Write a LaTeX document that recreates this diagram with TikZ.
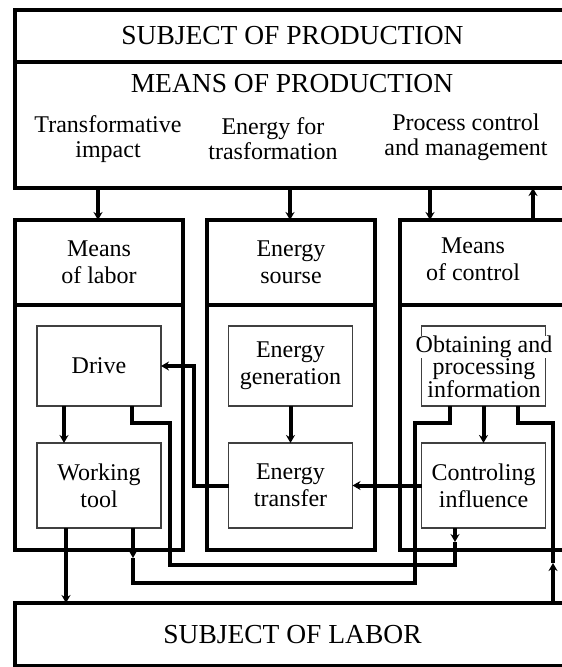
\documentclass[tikz,border=0pt]{standalone}
\usepackage{fontspec}
\setmainfont{Liberation Serif}
\usetikzlibrary{positioning}
\usetikzlibrary{arrows.meta}
\setlength{\fboxsep}{0pt}
\tikzset{every node/.style={ % Text of all boxes
      font=\fontsize{24}{27}\selectfont,
      align=center},
      head/.style={font=\fontsize{27.5}{30}\selectfont}, % Capital titles
      band/.style={ % Thick frames of the main blocks
      draw, line width=4pt, outer sep=0pt, inner sep=0pt},
      unit/.style={ % Thin boxes inside the blocks
      draw=black!75, line width=1.3pt, outer sep=0pt, inner sep=0pt,
      minimum width=124pt, minimum height=80pt},
      link/.style={ % Thick connectors with small heads
      draw, line width=4pt,
      -{Stealth[length=8pt,width=9pt]}},
      wire/.style={draw, line width=4pt}}

\begin{document}
\begin{tikzpicture}[x=1pt, y=-1pt]
      \useasboundingbox (0,0) rectangle (562,667);
      % top block
      \node[band, head, minimum width=555pt, minimum height=52pt, anchor=north west] (prod) at (15,10) {SUBJECT OF PRODUCTION};
      \node[band, minimum width=555pt, minimum height=126pt, below=0pt of prod] (means) {};
      \node[head] (meanstitle) at (292,84) {MEANS OF PRODUCTION};
      \node[font=\fontsize{24}{25}\selectfont] (impact) at (108,139) {Transformative\\impact};
      \node[font=\fontsize{24}{25}\selectfont] (energyfor) at (273,139) {Energy for\\trasformation};
      \node[font=\fontsize{24}{25}\selectfont] (process) at (466,137) {Process control\\and management};
      % three columns
      \node[band, minimum width=168pt, minimum height=85pt, anchor=north west] (labor) at (15,220) {Means\\of labor};
      \node[band, minimum width=168pt, minimum height=245pt, below=0pt of labor] (laborbox) {};
      \node[band, minimum width=168pt, minimum height=85pt, right=24pt of labor] (source) {Energy\\sourse};
      \node[band, minimum width=168pt, minimum height=245pt, below=0pt of source] (sourcebox) {};
      \node[band, minimum width=170pt, minimum height=85pt, right=25pt of source] (control) {};
      \node[band, minimum width=170pt, minimum height=245pt, below=0pt of control] (controlbox) {};
      \node (controltitle) at (473,259) {Means\\of control};
      % inner units
      \node[unit] (drive) at (99,366) {Drive};
      \node[unit, minimum height=85pt, below=37pt of drive] (tool) {Working\\tool};
      \node[unit] (gen) at (290.5,366) {Energy\\generation};
      \node[unit, minimum height=85pt, below=37pt of gen] (transfer) {Energy\\transfer};
      \node[unit] (info) at (483.5,366) {};
      \node[font=\fontsize{24}{21}\selectfont] (infotext) at (484,367) {\colorbox{white}{Obtaining and}\\processing\\information};
      \node[unit, minimum height=85pt, below=37pt of info] (ctrl) {Controling\\influence};
      % bottom block
      \node[band, head, minimum width=555pt, minimum height=63pt, anchor=north west] (subjlabor) at (15,603) {SUBJECT OF LABOR};
      % links between the blocks
      \draw[link] (98,0 |- means.south) -- (98,0 |- labor.north);
      \draw[link] (290,0 |- means.south) -- (290,0 |- source.north);
      \draw[link] (430,0 |- means.south) -- (430,0 |- control.north);
      \draw[link] (533,0 |- control.north) -- (533,0 |- means.south);
      \draw[link] (64,0 |- drive.south) -- (64,0 |- tool.north);
      \draw[link] (gen) -- (transfer);
      \draw[link] (info.south) -- (ctrl.north);
      \draw[link] (ctrl) -- (transfer);
      \draw[link] (transfer.west) -- ++(-35,0) |- (drive.east);
      \draw[link] (66,0 |- tool.south) -- (66,0 |- subjlabor.north);
      % feedback loops
      \draw[link] (455,0 |- ctrl.south) -- ++(0,14) coordinate (c1);
      \draw[wire] (c1) |- (170,565) |- (132,423) -- (132,0 |- drive.south);
      \draw[link] (133,0 |- tool.south) -- ++(0,30) coordinate (t1);
      \draw[wire] (t1) |- (415,583) |- (450,423) -- (450,0 |- info.south);
      \draw[link] (553,0 |- subjlabor.north) -- ++(0,-40) coordinate (s1);
      \draw[wire] (s1) |- (518,423) -- (518,0 |- info.south);
\end{tikzpicture}
\end{document}
